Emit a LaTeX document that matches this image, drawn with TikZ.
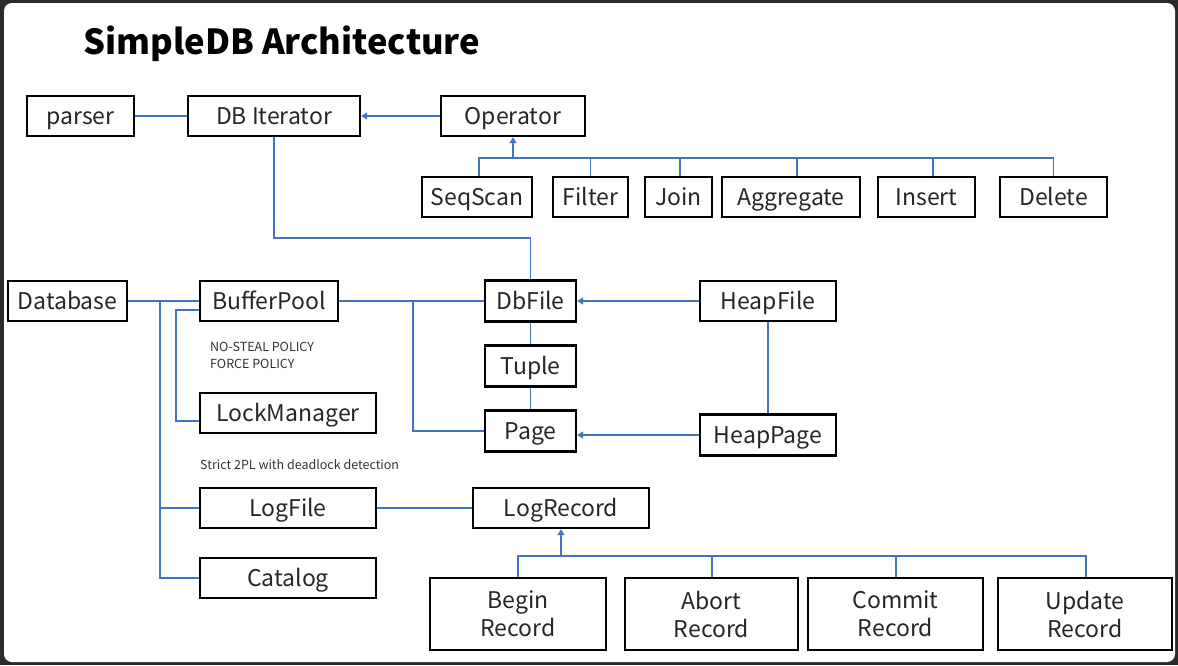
\documentclass[tikz,border=0pt]{standalone}
\usepackage{fontspec}
\setmainfont{Noto Sans CJK SC}
\usetikzlibrary{arrows.meta}
\definecolor{connblue}{HTML}{4472C4}
\definecolor{framegray}{HTML}{2B2B2B}
\tikzset{
  boxbase/.style={draw=black, line width=2.4pt, minimum height=40pt, inner sep=0pt, anchor=center,
    font=\fontsize{23}{28}\selectfont, align=center, text=black!85},
  box/.style={boxbase, text height=19.5pt, text depth=2.5pt},
  box2/.style={boxbase, minimum height=72pt},
  conn/.style={draw=connblue, line width=1.3pt},
  arr/.style={conn, -{Triangle[width=7pt,length=6pt]}},
  note/.style={font=\fontsize{12.5}{17}\selectfont, text=black!80, anchor=west, inner sep=0pt, align=left}
}
\begin{document}
\begin{tikzpicture}[x=1pt,y=-1pt]
\fill[framegray] (0,0) rectangle (1178,665);
\fill[white, rounded corners=8pt] (4,3) rectangle (1175,662);
\useasboundingbox (0,0) rectangle (1178,665);

\node[anchor=west, inner sep=0pt, font=\fontsize{34.5}{40}\selectfont\bfseries] (title) at (83,44) {SimpleDB Architecture};

% top row
\node[box, minimum width=107pt] (parser) at (80.5,116) {parser};
\node[box, minimum width=172pt] (dbiter) at (274,116) {DB Iterator};
\node[box, minimum width=144pt] (operator) at (513,116) {Operator};
% operators
\node[box, minimum width=110pt] (seqscan) at (477,197) {SeqScan};
\node[box, minimum width=75pt] (filter) at (590.5,197) {Filter};
\node[box, minimum width=67pt] (join) at (678.5,197) {Join};
\node[box, minimum width=138pt] (aggregate) at (791,197) {Aggregate};
\node[box, minimum width=97pt] (insert) at (926.5,197) {Insert};
\node[box, minimum width=107pt] (delete) at (1053.5,197) {Delete};
% middle
\node[box, minimum width=119pt] (database) at (67.5,301) {Database};
\node[box, minimum width=138pt] (bufferpool) at (269,301) {BufferPool};
\node[box, minimum width=91pt, minimum height=41pt] (dbfile) at (530.5,301) {DbFile};
\node[box, minimum width=136pt] (heapfile) at (768,301) {HeapFile};
\node[box, minimum width=91pt, minimum height=41pt] (tuple) at (530.5,366) {Tuple};
\node[box, minimum width=91pt, minimum height=41pt] (page) at (530.5,431) {Page};
\node[box, minimum width=136pt, minimum height=41pt] (heappage) at (768,435) {HeapPage};
\node[box, minimum width=176pt] (lockmanager) at (288,413) {LockManager};
\node[box, minimum width=176pt] (logfile) at (288,508) {LogFile};
\node[box, minimum width=176pt] (logrecord) at (561,508) {LogRecord};
\node[box, minimum width=176pt] (catalog) at (288,578) {Catalog};
% records
\node[box2, minimum width=176pt] (begin) at (518,614) {Begin\\Record};
\node[box2, minimum width=173pt] (abort) at (711.5,614) {Abort\\Record};
\node[box2, minimum width=175pt] (commit) at (895.5,614) {Commit\\Record};
\node[box2, minimum width=174pt] (update) at (1085,614) {Update\\Record};

% notes
\node[note] (policy) at (210,355) {NO-STEAL POLICY\\FORCE POLICY};
\node[note] (strict) at (200,465) {Strict 2PL with deadlock detection};

% connectors top
\draw[conn] (parser.east) -- (dbiter.west);
\draw[arr] (operator.west) -- (dbiter.east);
\coordinate (opbus) at (513,158);
\draw[arr] (opbus) -- (operator.south);
\draw[conn] ([xshift=2pt]seqscan.north) |- (opbus);
\draw[conn] (filter.north) |- (opbus);
\draw[conn] ([xshift=1.5pt]join.north) |- (opbus);
\draw[conn] ([xshift=6pt]aggregate.north) |- (opbus);
\draw[conn] ([xshift=6.5pt]insert.north) |- (opbus);
\draw[conn] (delete.north) |- (opbus);

\coordinate (iterbend) at (274,238);
\draw[conn] (dbiter.south) -- (iterbend) -| (dbfile.north);

% database
\draw[conn] (database.east) -- (bufferpool.west);
\coordinate (dbv) at (160,301);
\draw[conn] (dbv) |- (logfile.west);
\draw[conn] (dbv) |- (catalog.west);
\coordinate (bpv) at (176,310);
\draw[conn] ([yshift=-9pt]bufferpool.west) -- (bpv) |- ([yshift=-8pt]lockmanager.west);

% bufferpool to files
\draw[conn] (bufferpool.east) -- (dbfile.west);
\coordinate (bpbr) at (413,301);
\draw[conn] (bpbr) |- (page.west);
\draw[arr] (heapfile.west) -- (dbfile.east);
\draw[conn] (heapfile.south) -- (heappage.north);
\draw[arr] (heappage.west) -- (heappage.west -| page.east);
\draw[conn] (dbfile.south) -- (tuple.north);
\draw[conn] (tuple.south) -- (page.north);

% log
\draw[conn] (logfile.east) -- (logrecord.west);
\coordinate (lrbus) at (561,556);
\draw[arr] (lrbus) -- (logrecord.south);
\draw[conn] (begin.north) |- (lrbus);
\draw[conn] ([xshift=0.5pt]abort.north) |- (lrbus);
\draw[conn] ([xshift=0.5pt]commit.north) |- (lrbus);
\draw[conn] ([xshift=1pt]update.north) |- (lrbus);
\end{tikzpicture}
\end{document}
